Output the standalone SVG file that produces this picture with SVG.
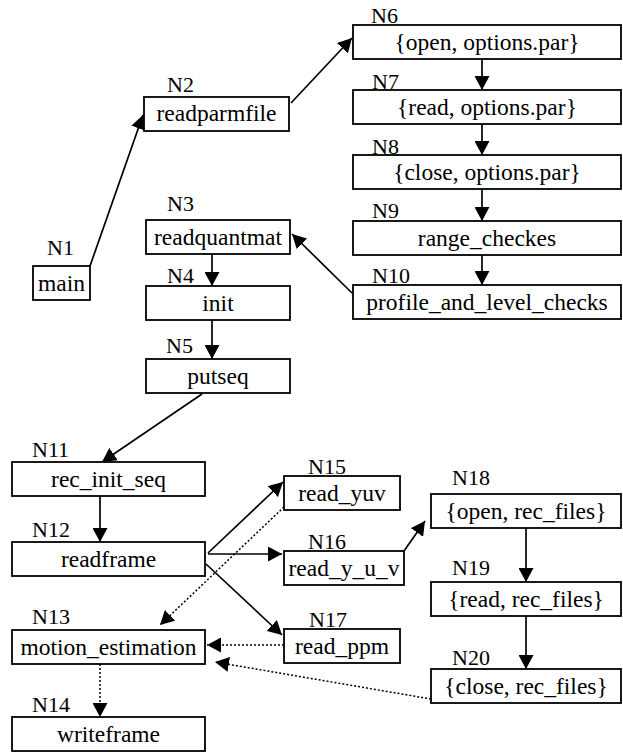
<svg xmlns="http://www.w3.org/2000/svg" width="623" height="752" viewBox="0 0 623 752" font-family="Liberation Serif, Times New Roman, serif">
<style>
.box{fill:#fff;stroke:#000;stroke-width:1.8}
.t{font-size:23.5px;text-anchor:middle;fill:#000}
.l{font-size:22px;fill:#000}
.e{stroke:#000;stroke-width:1.7;fill:none;marker-end:url(#ah)}
.d{stroke:#000;stroke-width:1.5;fill:none;stroke-dasharray:2 2;marker-end:url(#ah)}
</style>
<defs>
<marker id="ah" viewBox="0 0 14 15" refX="14" refY="7.5" markerWidth="14" markerHeight="15" markerUnits="userSpaceOnUse" orient="auto">
<path d="M0,0 L14,7.5 L0,15 z" fill="#000"/>
</marker>
</defs>
<rect width="623" height="752" fill="#fff"/>
<g id="connectors">
<line class="e" x1="90" y1="266" x2="143" y2="115"/>
<line class="e" x1="291" y1="103" x2="352" y2="38"/>
<line class="e" x1="482" y1="59" x2="482" y2="90"/>
<line class="e" x1="482" y1="124" x2="482" y2="155"/>
<line class="e" x1="482" y1="189" x2="482" y2="221"/>
<line class="e" x1="482" y1="255" x2="482" y2="285"/>
<line class="e" x1="352" y1="293" x2="292" y2="234"/>
<line class="e" x1="212" y1="254" x2="212" y2="286"/>
<line class="e" x1="212" y1="320" x2="212" y2="359"/>
<line class="e" x1="202" y1="394" x2="102" y2="462"/>
<line class="e" x1="100" y1="496" x2="100" y2="542"/>
<line class="e" x1="208" y1="553" x2="283" y2="482"/>
<line class="e" x1="208" y1="554" x2="282" y2="554"/>
<line class="e" x1="206" y1="564" x2="282" y2="635"/>
<line class="e" x1="404" y1="551" x2="425" y2="521"/>
<line class="e" x1="526" y1="528" x2="526" y2="582"/>
<line class="e" x1="526" y1="616" x2="526" y2="669"/>
<line class="d" x1="284" y1="507" x2="160" y2="625"/>
<line class="d" x1="284" y1="645" x2="207" y2="645"/>
<line class="d" x1="431" y1="699" x2="215" y2="662"/>
<line class="d" x1="100" y1="664" x2="100" y2="717"/>
</g>
<g id="N1"><rect class="box" x="33" y="266" width="57" height="34"/><text class="t" x="61.5" y="291">main</text><text class="l" x="47" y="255">N1</text></g>
<g id="N2"><rect class="box" x="144" y="97" width="145" height="34"/><text class="t" x="216.5" y="121">readparmfile</text><text class="l" x="167" y="92">N2</text></g>
<g id="N3"><rect class="box" x="146" y="220" width="144" height="34"/><text class="t" x="218" y="245">readquantmat</text><text class="l" x="167" y="211">N3</text></g>
<g id="N4"><rect class="box" x="146" y="286" width="144" height="34"/><text class="t" x="218" y="311">init</text><text class="l" x="167" y="283">N4</text></g>
<g id="N5"><rect class="box" x="146" y="359" width="144" height="34"/><text class="t" x="218" y="384">putseq</text><text class="l" x="166" y="353">N5</text></g>
<g id="N6"><rect class="box" x="353" y="25" width="268" height="34"/><text class="t" x="487" y="50">{open, options.par}</text><text class="l" x="371" y="23">N6</text></g>
<g id="N7"><rect class="box" x="353" y="90" width="268" height="34"/><text class="t" x="487" y="115">{read, options.par}</text><text class="l" x="372" y="89">N7</text></g>
<g id="N8"><rect class="box" x="353" y="155" width="268" height="34"/><text class="t" x="487" y="180">{close, options.par}</text><text class="l" x="372" y="154">N8</text></g>
<g id="N9"><rect class="box" x="353" y="221" width="268" height="34"/><text class="t" x="487" y="246">range_checkes</text><text class="l" x="372" y="218">N9</text></g>
<g id="N10"><rect class="box" x="353" y="285" width="268" height="34"/><text class="t" x="487" y="310">profile_and_level_checks</text><text class="l" x="372" y="283">N10</text></g>
<g id="N11"><rect class="box" x="12" y="462" width="193" height="34"/><text class="t" x="108.5" y="487">rec_init_seq</text><text class="l" x="32" y="457">N11</text></g>
<g id="N12"><rect class="box" x="12" y="542" width="193" height="34"/><text class="t" x="108.5" y="567">readframe</text><text class="l" x="32" y="537">N12</text></g>
<g id="N13"><rect class="box" x="12" y="630" width="193" height="34"/><text class="t" x="108.5" y="655">motion_estimation</text><text class="l" x="32" y="624">N13</text></g>
<g id="N14"><rect class="box" x="12" y="717" width="193" height="34"/><text class="t" x="108.5" y="742">writeframe</text><text class="l" x="32" y="712">N14</text></g>
<g id="N15"><rect class="box" x="284" y="476" width="116" height="34"/><text class="t" x="342" y="501">read_yuv</text><text class="l" x="308" y="474">N15</text></g>
<g id="N16"><rect class="box" x="284" y="551" width="120" height="34"/><text class="t" x="344" y="576">read_y_u_v</text><text class="l" x="308" y="549">N16</text></g>
<g id="N17"><rect class="box" x="284" y="629" width="116" height="34"/><text class="t" x="342" y="654">read_ppm</text><text class="l" x="309" y="627">N17</text></g>
<g id="N18"><rect class="box" x="431" y="494" width="190" height="34"/><text class="t" x="526" y="519">{open, rec_files}</text><text class="l" x="452" y="485">N18</text></g>
<g id="N19"><rect class="box" x="431" y="582" width="190" height="34"/><text class="t" x="526" y="607">{read, rec_files}</text><text class="l" x="452" y="575">N19</text></g>
<g id="N20"><rect class="box" x="431" y="669" width="190" height="34"/><text class="t" x="526" y="694">{close, rec_files}</text><text class="l" x="452" y="665">N20</text></g>
</svg>
